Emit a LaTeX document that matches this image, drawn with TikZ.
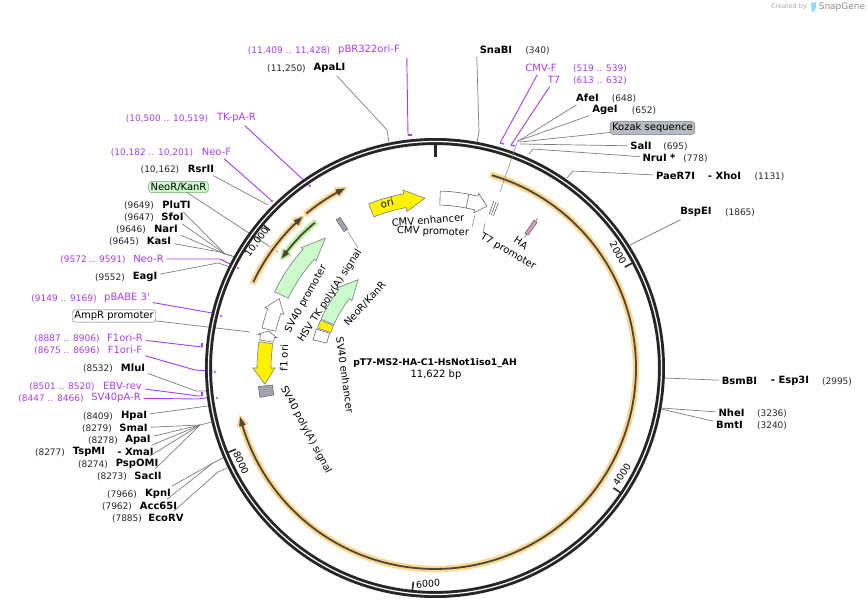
\documentclass[tikz,border=0pt]{standalone}
\usepackage{fontspec}
\setmainfont{DejaVu Sans}
\newfontfamily\plainquote{DejaVu Sans}
\usepackage{xcolor}
\definecolor{snpurple}{RGB}{170,60,240}
\definecolor{snleader}{RGB}{125,125,125}
\definecolor{snglow}{RGB}{251,214,145}
\definecolor{snlime}{RGB}{190,240,160}
\definecolor{sncore}{RGB}{80,70,55}
\definecolor{snmint}{RGB}{204,250,204}
\definecolor{snedge}{RGB}{120,125,120}
\definecolor{sngrey}{RGB}{160,165,175}
\definecolor{snpink}{RGB}{216,155,190}
\newcommand{\fsz}[1]{\fontsize{#1}{#1}\selectfont}
\tikzset{
  lab/.style={inner sep=0pt,outer sep=3pt,font=\fsz{10}},
  enz/.style={lab,font=\fsz{10}\bfseries},
  loc/.style={lab,font=\fsz{9},text=black!85},
  oli/.style={lab,text=snpurple},
  oliloc/.style={loc,text=snpurple},
  tag/.style={lab,draw=black!55,rounded corners=3pt,inner xsep=2pt,inner ysep=1.5pt,outer sep=0pt},
  tick/.style={lab,font=\fsz{9.5}},
  leader/.style={draw=snleader,line width=0.7pt},
  oleader/.style={draw=snpurple,line width=0.9pt},
}
% feature block along the ring: radius, start, head base, tip, half widths, look
\newcommand{\featarrow}[7]{\filldraw[#7,line join=miter] plot[domain=#2:#3,samples=120] (\x:{#1+#5}) -- (#3:{#1+#6}) -- (#4:#1) -- (#3:{#1-#6}) -- plot[domain=#3:#2,samples=120] (\x:{#1-#5}) -- cycle;}
\newcommand{\featbox}[5]{\filldraw[#5] plot[domain=#2:#3,samples=6] (\x:{#1+#4}) -- plot[domain=#3:#2,samples=6] (\x:{#1-#4}) -- cycle;}
% thin feature with a glow: radius, start, tip, glow colour
\newcommand{\glowarc}[4]{\pgfmathsetmacro{\sgn}{sign(#3-#2)}\pgfmathsetmacro{\hb}{#3-\sgn*2.6}\pgfmathsetmacro{\st}{#2-\sgn*0.6}\pgfmathsetmacro{\tp}{#3+\sgn*0.7}%
\featarrow{#1}{\st}{\hb}{\tp}{3.2}{6.4}{fill=#4,draw=none}
\featarrow{#1}{#2}{\hb}{#3}{0.9}{3.4}{fill=sncore,draw=none}}
\begin{document}
\begin{tikzpicture}[x=1pt,y=-1pt]
\useasboundingbox (0,0) rectangle (868,612);
% ---- corner mark ----
\node[lab,font=\fsz{6.5},text=black!35] (madeby) at (789,7) {Created by};
\fill[cyan!45] (811,3) -- (816,2) -- (816,8) -- (812,13) -- cycle;
\node[lab,font=\fsz{9},text=black!45] (snapgene) at (842,7) {SnapGene};
% ---- enzymes: name, x, y, text, x of position, position ----
\foreach \n/\x/\y/\lab/\px/\p in {snabi/496/50/SnaBI/537.5/(340),afei/587.5/98/AfeI/624/(648),agei/605/110/AgeI/644/(652),
  sali/641/146/SalI/675.5/(695),nrui/659/158/NruI */695.5/(778),paer/675.5/176/PaeR7I/769.5/(1131),bspei/696/212/BspEI/740/(1865),
  bsmbi/739.5/381/BsmBI/837/(2995),nhei/731.5/413/NheI/772/(3236),bmti/729.5/425/BmtI/772/(3240),
  apali/329.5/68/ApaLI/286.5/{(11,250)},rsrii/201/169/RsrII/160/{(10,162)},pluti/176.5/205/PluTI/139/(9649),sfoi/172.5/217/SfoI/139/(9647),
  nari/166/229/NarI/131/(9646),kasi/159/241/KasI/124/(9645),eagi/145/277/EagI/110/(9552),mlui/133/368/MluI/98/(8532),
  hpai/134/416/HpaI/98/(8409),smai/133.5/428/SmaI/97/(8279),apai/138/440/ApaI/103/(8278),tspmi/89/452/TspMI/50/(8277),
  pspomi/137/464/PspOMI/93/(8274),sacii/148/476/SacII/112/(8273),kpni/158/494/KpnI/122/(7966),acci/158.5/506/Acc65I/117/(7962),ecorv/166/518/EcoRV/127/(7885)}{
  \node[enz] (\n) at (\x,\y) {\lab};
  \node[loc] (\n pos) at (\px,{\y+1}) {\p};
}
\node[enz] (xhoi) at (724.5,176) {- XhoI};
\node[enz] (esp3i) at (790,381) {- Esp3I};
\node[enz] (xmai) at (135.5,452) {- XmaI};
% ---- primers ----
\foreach \n/\x/\y/\lab/\px/\p in {pbrf/369/50/pBR322ori-F/289/{(11,409 .. 11,428)},cmvf/541/68/CMV-F/600/{(519 .. 539)},tseven/554/80/T7/600/{(613 .. 632)},
  tkpar/236.5/118/TK-pA-R/167/{(10,500 .. 10,519)},neof/216.5/152/Neo-F/152/{(10,182 .. 10,201)},neorev/148.5/259/Neo-R/93/{(9572 .. 9591)},
  pbabe/127/298/{pBABE 3{\plainquote'}}/64/{(9149 .. 9169)},fonerev/125/338/F1ori-R/67/{(8887 .. 8906)},fonefwd/125/350/F1ori-F/67/{(8675 .. 8696)},
  ebvrev/122.5/386/EBV-rev/62/{(8501 .. 8520)},svpar/116/398/SV40pA-R/51/{(8447 .. 8466)}}{
  \node[oli] (\n) at (\x,\y) {\lab};
  \node[oliloc] (\n pos) at (\px,{\y+1}) {\p};
}
% ---- boxed features ----
\node[tag,fill=sngrey!75] (kozak) at (652.5,128) {Kozak sequence};
\node[tag,fill=snmint,draw=green!45!black!60] (neotag) at (178.5,187) {NeoR/KanR};
\node[tag,fill=white] (amptag) at (114,316) {AmpR promoter};
% ---- leader bends and ends ----
\foreach \n/\x/\y in {snabis/479/132,snabie/477/142,afeie/517/142,agee/518/141,koze/520/142,salie/520/144,nrub/533/149,nrue/529/154,
  paerb/573/171,paere/567/178,bspe/630/245,bsme/665/378,nhee/661/408,bmte/661/409,apalb/387/130,apale/389/142,t7lead/517/143,
  hubcut/225/254,rsre/268/205,neoe/278/252,kase/235/257,kasb/220/252,plue/232/256,eagb/218/263,eage/230/267,ampe/250/332,mlub/196/391,mlue/208/391,
  hpae/208/406,smab/200/425,smae/212/422,kpnb/213/463,kpne/225/457,ecob/218/472,ecoe/227/468,
  pbre/408/135,cmve/500/143,tse/511/145,tke/310/186,nfe/272/201,nrb/220/259,nre/230/264,pbe/212/313,frb/202/347,ffb/195/370,ffe/213/371,
  evb/198/396,eve/202/396,spb/197/399,spe/213/397}{\coordinate (\n) at (\x,\y);}
\draw[leader] (snabi.south west) -- (snabis) -- (snabie);
\draw[leader] (afei) -- (afeie);
\draw[leader] (agei) -- (agee);
\draw[leader] (kozak) -- (koze);
\draw[leader] (sali) -- (salie);
\draw[leader] (nrui) -- (nrub) -- (nrue);
\draw[leader] (paer) -- (paerb) -- (paere);
\draw[leader] (bspei) -- (bspe);
\draw[leader] (bsmbi) -- (bsme);
\draw[leader] (nhei) -- (nhee);
\draw[leader] (bmti) -- (bmte);
\draw[leader] (apali) -- (apalb) -- (apale);
\draw[leader] (rsrii) -- (rsre);
\draw[leader] (neotag) -- (neoe);
\draw[leader] (pluti) -- (hubcut) -- (plue);
\draw[leader] (sfoi) -- (hubcut);
\draw[leader] (nari) -- (hubcut);
\draw[leader] (kasi) -- (kasb) -- (kase);
\draw[leader] (eagi) -- (eagb) -- (eage);
\draw[leader] (amptag) -- (ampe);
\draw[leader] (mlui) -- (mlub) -- (mlue);
\draw[leader] (hpai) -- (hpae);
\draw[leader] (smai) -- (smab) -- (smae);
\draw[leader] (apai) -- (smab);
\draw[leader] (xmai) -- (smab);
\draw[leader] (pspomi) -- (smab);
\draw[leader] (sacii) -- (smab);
\draw[leader] (kpni) -- (kpnb) -- (kpne);
\draw[leader] (acci) -- (kpnb);
\draw[leader] (ecorv) -- (ecob) -- (ecoe);
\draw[oleader] ([xshift=4pt]pbrf.south east) -- (pbre);
\draw[oleader] (cmvf) -- (cmve);
\draw[oleader] (tseven) -- (tse);
\draw[oleader] (tkpar) -- (tke);
\draw[oleader] (neof) -- (nfe);
\draw[oleader] (neorev) -- (nrb) -- (nre);
\draw[oleader] (pbabe) -- (pbe);
\draw[oleader] (fonerev) -- (frb);
\draw[oleader] (fonefwd) -- (ffb) -- (ffe);
\draw[oleader] (ebvrev) -- (evb) -- (eve);
\draw[oleader] (svpar) -- (spb) -- (spe);
% ---- backbone ----
\begin{scope}[shift={(435,368)}]
\draw[line width=7pt,black!85] (0,0) circle[radius=226.5pt];
\draw[line width=1.2pt,white] (0,0) circle[radius=226.5pt];
\draw[line width=3pt,black!85] (-90:223) -- (-90:211);
\foreach \a in {-28,33.9,95.8,157.8,219.8}{ \draw[line width=1.6pt,black!85] (\a:223) -- (\a:215);}
% glow features
\glowarc{201}{-73.5}{165.9}{snglow}
\glowarc{201}{205.3}{228.8}{snglow}
\glowarc{201}{230.2}{243.4}{snglow}
\glowarc{188.5}{230.4}{215.5}{snlime}
% blocks
\featarrow{170}{205.4}{222}{229.8}{7.5}{10}{fill=snmint,draw=snedge,line width=0.6pt}
\featarrow{117}{203.2}{219}{229}{7}{10}{fill=snmint,draw=snedge,line width=0.6pt}
\featbox{117}{198.8}{202.6}{7}{fill=yellow,draw=snedge,line width=0.6pt}
\featbox{118}{193}{198.2}{7}{fill=white,draw=black!60,line width=0.6pt}
\featarrow{170.5}{193}{199.5}{204}{7}{10}{fill=white,draw=black!55,line width=0.6pt}
\featarrow{170.5}{189.1}{190.8}{192.5}{7}{10}{fill=white,draw=black!55,line width=0.6pt}
\featarrow{171}{188.5}{180}{174.6}{7}{11}{fill=yellow,draw=snedge,line width=0.6pt}
\featbox{170.5}{170.5}{174}{7}{fill=sngrey,draw=black!60,line width=0.6pt}
\featbox{171}{236.3}{237.8}{7}{fill=sngrey,draw=black!60,line width=0.6pt}
\featarrow{170}{248}{259.8}{266.6}{7}{11}{fill=yellow,draw=snedge,line width=0.6pt}
\featarrow{170}{271.7}{284}{287.8}{7}{10}{fill=white,draw=black!60,line width=0.6pt}
\draw[black!60,line width=0.6pt] (281:163) -- (281:177);
\foreach \a in {289.4,290.2,291}{ \draw[black!70,line width=0.5pt] (\a:163) -- (\a:177);}
\draw[black!70,line width=0.5pt] (304.4:158.5) -- (304.4:181.5);
\featbox{170}{303.8}{305}{8}{fill=snpink,draw=black!70,line width=0.4pt}
\end{scope}
% ---- primer marks ----
\foreach \x/\y in {310/186,272/201,238/268,221/316,215/372,217/398}{ \fill[snpurple] (\x,\y) circle[radius=1.1];}
\draw[snpurple,line width=1.3pt] (pbre) -- ++(3.5,0);
\draw[snpurple,line width=1.3pt] (cmve) -- ++(4,1);
\draw[snpurple,line width=1.3pt] (tse) -- ++(4,1);
\draw[snpurple,line width=1.3pt] (frb) -- ++(0,-4);
\draw[snpurple,line width=1.3pt] (eve) -- ++(0,-4);
% ---- short leaders inside ----
\coordinate (hsvs) at (348,232);
\coordinate (hsve) at (358,248);
\coordinate (cmvs) at (475,215);
\coordinate (cmvx) at (472,227);
\coordinate (tsvs) at (485,223);
\coordinate (tsvx) at (483,232);
\coordinate (tsup) at (500,192);
\draw[leader,line width=0.5pt] (hsvs) -- (hsve);
\draw[leader,line width=0.5pt] (cmvs) -- (cmvx);
\draw[leader,line width=0.5pt] (tsvs) -- (tsvx);
\draw[leader,line width=0.5pt] (t7lead) -- (tsup);
% ---- ring numbers ----
\node[tick,rotate=-62] (nb2) at (618,253) {2000};
\node[tick,rotate=56] (nb4) at (622,475) {4000};
\node[tick,rotate=5] (nb6) at (428,584) {6000};
\node[tick,rotate=-65] (nb8) at (241,463) {8000};
\node[tick,rotate=53] (nb10) at (257,242) {10,000};
% ---- labels on features ----
\node[lab,rotate=14] (orilab) at (387,203) {ori};
\node[lab,rotate=4] (cmven) at (428,220) {CMV enhancer};
\node[lab,rotate=-2] (cmvpr) at (433,232) {CMV promoter};
\node[lab,rotate=-30] (tsevenpr) at (508,252) {T7 promoter};
\node[lab,rotate=-35] (halab) at (521,243) {HA};
\node[lab,rotate=61] (svpr) at (306,299) {SV40 promoter};
\node[lab,rotate=57] (hsvlab) at (330,296) {HSV TK poly(A) signal};
\node[lab,rotate=47] (neolab) at (365,304) {NeoR/KanR};
\node[lab,rotate=-82] (sven) at (345,375) {SV40 enhancer};
\node[lab,rotate=88] (fone) at (284,358) {f1 ori};
\node[lab,rotate=-62] (svpoly) at (306,430) {SV40 poly(A) signal};
% ---- title ----
\node[lab,font=\fsz{9.2}\bfseries] (ptitle) at (435,363) {pT7-MS2-HA-C1-HsNot1iso1\_AH};
\node[lab] (psize) at (436,375) {11,622 bp};
\end{tikzpicture}
\end{document}
